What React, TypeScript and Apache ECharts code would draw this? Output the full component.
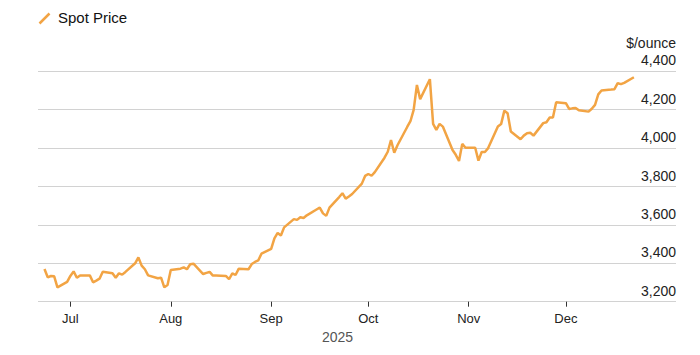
import React, { useEffect, useRef } from "react";
import * as echarts from "echarts";

const dates: string[] = [
  "2025-06-23","2025-06-24","2025-06-25","2025-06-26","2025-06-27","2025-06-30",
  "2025-07-01","2025-07-02","2025-07-03","2025-07-04","2025-07-07","2025-07-08","2025-07-09","2025-07-10","2025-07-11",
  "2025-07-14","2025-07-15","2025-07-16","2025-07-17","2025-07-18","2025-07-21","2025-07-22","2025-07-23","2025-07-24","2025-07-25",
  "2025-07-28","2025-07-29","2025-07-30","2025-07-31","2025-08-01",
  "2025-08-04","2025-08-05","2025-08-06","2025-08-07","2025-08-08","2025-08-11","2025-08-12","2025-08-13","2025-08-14","2025-08-15",
  "2025-08-18","2025-08-19","2025-08-20","2025-08-21","2025-08-22","2025-08-25","2025-08-26","2025-08-27","2025-08-28","2025-08-29",
  "2025-09-01","2025-09-02","2025-09-03","2025-09-04","2025-09-05","2025-09-08","2025-09-09","2025-09-10","2025-09-11","2025-09-12",
  "2025-09-15","2025-09-16","2025-09-17","2025-09-18","2025-09-19","2025-09-22","2025-09-23","2025-09-24","2025-09-25","2025-09-26",
  "2025-09-29","2025-09-30","2025-10-01","2025-10-02","2025-10-03","2025-10-06","2025-10-07","2025-10-08","2025-10-09","2025-10-10",
  "2025-10-13","2025-10-14","2025-10-15","2025-10-16","2025-10-17","2025-10-20","2025-10-21","2025-10-22","2025-10-23","2025-10-24",
  "2025-10-27","2025-10-28","2025-10-29","2025-10-30","2025-10-31","2025-11-03","2025-11-04","2025-11-05","2025-11-06","2025-11-07",
  "2025-11-10","2025-11-11","2025-11-12","2025-11-13","2025-11-14","2025-11-17","2025-11-18","2025-11-19","2025-11-20","2025-11-21",
  "2025-11-24","2025-11-25","2025-11-26","2025-11-27","2025-11-28","2025-12-01","2025-12-02","2025-12-03","2025-12-04","2025-12-05",
  "2025-12-08","2025-12-09","2025-12-10","2025-12-11","2025-12-12","2025-12-15","2025-12-16","2025-12-17","2025-12-18","2025-12-19",
  "2025-12-22",
];

const spotPrice: number[] = [
  3370, 3327, 3334, 3332, 3275, 3303,
  3334, 3358, 3325, 3337, 3337, 3301, 3310, 3320, 3356,
  3348, 3325, 3348, 3341, 3355, 3400, 3431, 3388, 3369, 3337,
  3322, 3325, 3275, 3287, 3365,
  3372, 3379, 3369, 3395, 3398, 3344, 3350, 3355, 3336, 3336,
  3334, 3317, 3348, 3339, 3372, 3369, 3396, 3407, 3415, 3450,
  3475, 3530, 3558, 3545, 3587, 3630, 3626, 3640, 3636, 3650,
  3680, 3690, 3660, 3647, 3690, 3745, 3765, 3737, 3748, 3761,
  3815, 3855, 3865, 3856, 3875, 3950, 3981, 4042, 3976, 4015,
  4110, 4140, 4199, 4329, 4255, 4359, 4126, 4095, 4126, 4112,
  3990, 3965, 3933, 4022, 4002, 4002, 3935, 3980, 3980, 4000,
  4112, 4125, 4195, 4182, 4086, 4046, 4065, 4077, 4080, 4065,
  4130, 4135, 4159, 4159, 4239, 4234, 4204, 4207, 4209, 4197,
  4190, 4205, 4225, 4280, 4300, 4305, 4307, 4338, 4333, 4340,
  4369,
];

const monthTicks: string[] = ["2025-07-01", "2025-08-01", "2025-09-01", "2025-10-01", "2025-11-01", "2025-12-01"];
const monthNames: string[] = ["Jan", "Feb", "Mar", "Apr", "May", "Jun", "Jul", "Aug", "Sep", "Oct", "Nov", "Dec"];
const xRange: string[] = ["2025-06-21", "2026-01-04"];
const yTicks: number[] = [3200, 3400, 3600, 3800, 4000, 4200, 4400];

const toTs = (s: string) => {
  const [y, m, d] = s.split("-").map(Number);
  return Date.UTC(y, m - 1, d);
};

const FONT = "'Liberation Sans', Arial, sans-serif";
const LINE_COLOR = "#F2A444";

export default function App() {
  const ref = useRef<HTMLDivElement>(null);
  useEffect(() => {
    if (!ref.current) return;
    const chart = echarts.init(ref.current, null, { renderer: "svg" });
    const seriesData = dates.map((d, i) => [toTs(d), spotPrice[i]]);
    const tickVals = monthTicks.map(toTs);
    chart.setOption({
      animation: false,
      grid: { left: 38, right: 24, top: 71.3, bottom: 53.3, containLabel: false },
      xAxis: {
        type: "value",
        min: toTs(xRange[0]),
        max: toTs(xRange[1]),
        axisLine: { show: false },
        splitLine: { show: false },
        axisTick: {
          show: true,
          customValues: tickVals,
          length: 5,
          lineStyle: { color: "#333", width: 1 },
        },
        axisLabel: {
          customValues: tickVals,
          formatter: (v: number) => monthNames[new Date(v).getUTCMonth()],
          color: "#222",
          fontFamily: FONT,
          fontSize: 13,
          margin: 10,
        },
      },
      yAxis: {
        type: "value",
        position: "right",
        min: yTicks[0],
        max: yTicks[yTicks.length - 1],
        interval: 200,
        axisLine: { show: false },
        axisTick: { show: false },
        splitLine: { show: true, lineStyle: { color: "#d2d2d2", width: 1 } },
        axisLabel: {
          inside: true,
          margin: 0,
          verticalAlign: "bottom",
          padding: [0, 0, 4, 0],
          color: "#222",
          fontFamily: FONT,
          fontSize: 14,
          formatter: (v: number) => v.toLocaleString("en-US"),
        },
      },
      series: [
        {
          name: "Spot Price",
          type: "line",
          data: seriesData,
          showSymbol: false,
          symbol: "none",
          lineStyle: { color: LINE_COLOR, width: 2.5 },
          itemStyle: { color: LINE_COLOR },
        },
      ],
      graphic: [
        {
          type: "line",
          shape: { x1: 39.5, y1: 23.5, x2: 49.5, y2: 13.5 },
          style: { stroke: LINE_COLOR, lineWidth: 2.5 },
        },
        {
          type: "text",
          left: 58,
          top: 10,
          style: { text: "Spot Price", fill: "#111", font: `15px ${FONT}` },
        },
        {
          type: "text",
          right: 24,
          top: 36,
          style: { text: "$/ounce", fill: "#222", font: `14px ${FONT}` },
        },
        {
          type: "text",
          left: 322,
          top: 330,
          style: { text: "2025", fill: "#555", font: `14px ${FONT}` },
        },
      ],
    });
    return () => chart.dispose();
  }, []);
  return (
    <div
      ref={ref}
      style={{ position: "absolute", left: 0, top: 0, width: 700, height: 355 }}
    />
  );
}
